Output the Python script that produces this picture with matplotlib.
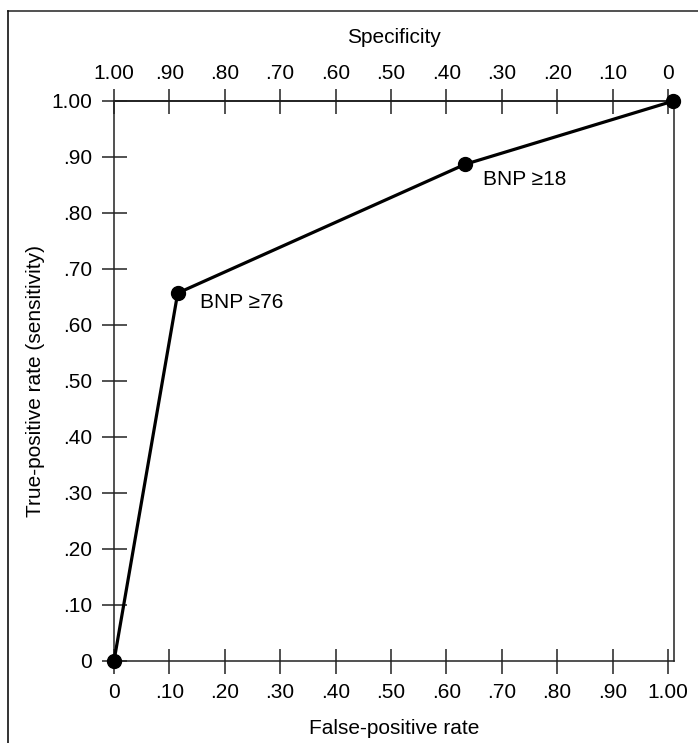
import matplotlib
matplotlib.use("Agg")
import matplotlib.pyplot as plt
from matplotlib.lines import Line2D

plt.rcParams['font.family'] = ['Liberation Sans', 'DejaVu Sans']

# ROC points (false-positive rate, true-positive rate)
fpr = [0.0, 0.115, 0.634, 1.01]
tpr = [0.0, 0.657, 0.887, 1.0]
etiquetas = ["", "BNP \u226576", "BNP \u226518", ""]
# deslocamento do texto de cada ponto (pontos tipograficos)
desloc = [(0, 0), (16, -7), (13, -11), (0, 0)]

ticks = [0.0, 0.1, 0.2, 0.3, 0.4, 0.5, 0.6, 0.7, 0.8, 0.9, 1.0]
rotulos_baixo = ["0", ".10", ".20", ".30", ".40", ".50", ".60", ".70", ".80", ".90", "1.00"]
rotulos_esq = ["0", ".10", ".20", ".30", ".40", ".50", ".60", ".70", ".80", ".90", "1.00"]
rotulos_cima = ["1.00", ".90", ".80", ".70", ".60", ".50", ".40", ".30", ".20", ".10", "0"]

fs = 15

fig = plt.figure(figsize=(6.98, 7.43), dpi=100)
ax = fig.add_axes([114 / 698, 1 - 661 / 743, 560 / 698, 560 / 743])

# moldura da figura (so topo e esquerda)
fig.add_artist(Line2D([8 / 698, 1], [1 - 11 / 743, 1 - 11 / 743], transform=fig.transFigure,
                      color='#333333', lw=1.2))
fig.add_artist(Line2D([8 / 698, 8 / 698], [0, 1 - 11 / 743], transform=fig.transFigure,
                      color='#111111', lw=1.2))

ax.plot(fpr, tpr, color='black', lw=2.3, marker='o', ms=10, zorder=5, clip_on=False)
for x, y, t, d in zip(fpr, tpr, etiquetas, desloc):
    if t:
        ax.annotate(t, (x, y), xytext=d, textcoords='offset points',
                    fontsize=fs, va='center', ha='left')

ax.set_xlim(0, 1.011)
ax.set_ylim(0, 1.0)

for s in ax.spines.values():
    s.set_linewidth(1.1)
    s.set_color('#222222')

ax.set_xticks(ticks)
ax.set_xticklabels(rotulos_baixo)
ax.set_yticks(ticks)
ax.set_yticklabels(rotulos_esq)
ax.tick_params(axis='both', direction='inout', length=18, width=1.1, labelsize=fs,
               color='#222222', pad=7)

topo = ax.secondary_xaxis('top')
topo.set_xticks(ticks)
topo.set_xticklabels(rotulos_cima)
topo.tick_params(direction='inout', length=18, width=1.1, labelsize=fs, color='#222222', pad=4)
topo.spines['top'].set_linewidth(1.1)
topo.set_xlabel("Specificity", fontsize=fs, labelpad=15)

ax.set_xlabel("False-positive rate", fontsize=fs, labelpad=12)
ax.set_ylabel("True-positive rate (sensitivity)", fontsize=fs, labelpad=4)

fig.savefig("out.png", dpi=100)
